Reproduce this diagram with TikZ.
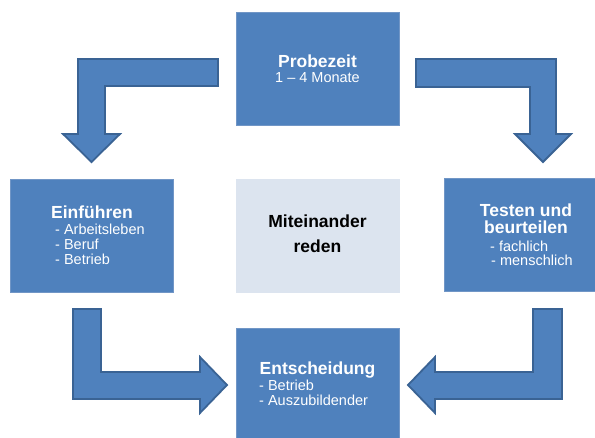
\documentclass[tikz,border=0pt]{standalone}
\usepackage{fontspec}
\setmainfont{Liberation Sans}
\definecolor{boxblue}{HTML}{4F81BD}
\definecolor{boxedge}{HTML}{7196C6}
\definecolor{arrowedge}{HTML}{3A6394}
\definecolor{lightbox}{HTML}{DCE4EF}
\begin{document}
\begin{tikzpicture}[x=1pt,y=-1pt,
  bluebox/.style={draw=boxedge,line width=0.8pt,fill=boxblue,rectangle,inner sep=0pt,anchor=north west},
  palebox/.style={draw=lightbox,line width=0.8pt,fill=lightbox,rectangle,inner sep=0pt,anchor=north west},
  blockarrow/.style={draw=arrowedge,line width=1.8pt,fill=boxblue,line join=miter},
  ttl/.style={font=\fontsize{17.5}{20}\selectfont\bfseries,text=white,inner sep=0pt,anchor=base},
  itm/.style={font=\fontsize{14.5}{17}\selectfont,text=white,inner sep=0pt,anchor=base west},
  darkttl/.style={font=\fontsize{17.5}{20}\selectfont\bfseries,text=black,inner sep=0pt,anchor=base}]
\useasboundingbox (0,0) rectangle (595,437);
\clip (0,0) rectangle (595,437);
\fill[white] (0,0) rectangle (595,437);
% boxes
\node[bluebox,minimum width=163pt,minimum height=113pt] (probe) at (236,12) {};
\node[bluebox,minimum width=163pt,minimum height=113pt] (einf) at (10,179) {};
\node[palebox,minimum width=163pt,minimum height=113pt] (mit) at (236,179) {};
\node[bluebox,minimum width=163pt,minimum height=113pt] (test) at (444,178) {};
\node[bluebox,minimum width=163pt,minimum height=113pt] (ents) at (236,328) {};
% block arrows
\path[blockarrow] (218,59) -- (78,59) -- (78,134) -- (63,134) -- (91.5,162) -- (120,134) -- (105,134) -- (105,86) -- (218,86) -- cycle;
\path[blockarrow] (416,59) -- (556,59) -- (556,134) -- (571,134) -- (543,162) -- (515,134) -- (530,134) -- (530,87) -- (416,87) -- cycle;
\path[blockarrow] (73,309) -- (101,309) -- (101,372) -- (200,372) -- (200,357) -- (227,385) -- (200,413) -- (200,399) -- (73,399) -- cycle;
\path[blockarrow] (562,309) -- (533,309) -- (533,372) -- (435,372) -- (435,357) -- (408,385) -- (435,413) -- (435,399) -- (562,399) -- cycle;
% texts
\node[ttl] (probeT) at (317.5,67) {Probezeit};
\node[itm,anchor=base] (probeS) at (317.5,82) {1 – 4 Monate};
\node[ttl] (einfT) at (92,218) {Einführen};
\node[itm] (einf1) at (55,234) {- Arbeitsleben};
\node[itm] (einf2) at (55,249) {- Beruf};
\node[itm] (einf3) at (55,264) {- Betrieb};
\node[darkttl] (mit1) at (317.5,227) {Miteinander};
\node[darkttl] (mit2) at (317.5,252) {reden};
\node[ttl] (test1) at (526,216) {Testen und};
\node[ttl] (test2) at (526,233) {beurteilen};
\node[itm] (test3) at (490,251) {- fachlich};
\node[itm] (test4) at (491,265) {- menschlich};
\node[ttl] (entsT) at (317.5,374) {Entscheidung};
\node[itm] (ents1) at (259,390.5) {- Betrieb};
\node[itm] (ents2) at (259,405) {- Auszubildender};
\end{tikzpicture}
\end{document}
